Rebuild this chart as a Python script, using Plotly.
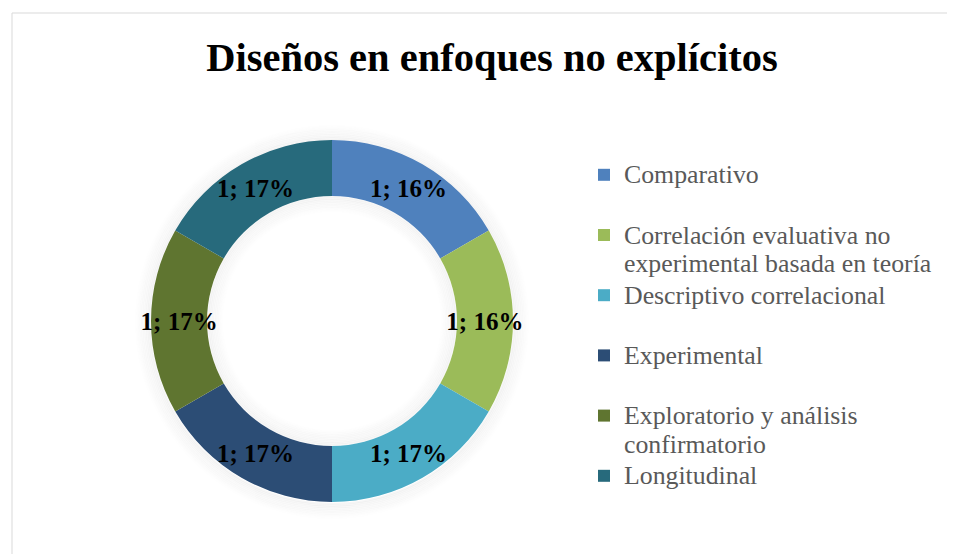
import plotly.graph_objects as go

categories = [
    "Comparativo",
    "Correlación evaluativa no|experimental basada en teoría",
    "Descriptivo correlacional",
    "Experimental",
    "Exploratorio y análisis|confirmatorio",
    "Longitudinal",
]
values = [1, 1, 1, 1, 1, 1]
pct_labels = ["16%", "16%", "17%", "17%", "17%", "17%"]
colors = ["#4F81BD", "#9BBB59", "#4BACC6", "#2C4D75", "#5F7530", "#276A7C"]
title_text = "Diseños en enfoques no explícitos"

OFF = 8  # page body margin
W, H = 955 - OFF, 554 - OFF
FONT = "Liberation Serif"


def px(x):
    return (x - OFF) / W


def py(y):
    return 1 - (y - OFF) / H


def legend_label(cat):
    lines = cat.split("|")
    if len(lines) == 1:
        lines.append(" ")
    return "<br>".join('<span style="font-size:25.8px">%s</span>' % ln for ln in lines)


labels = [legend_label(c) for c in categories]

# donut geometry (reference pixels)
cx, cy, R, r_in = 332, 321, 181, 125

fig = go.Figure(
    go.Pie(
        labels=labels,
        values=values,
        text=pct_labels,
        texttemplate="%{value}; %{text}",
        textposition="inside",
        insidetextorientation="horizontal",
        textfont=dict(family=FONT, size=25, color="black", weight="bold"),
        hole=r_in / R,
        sort=False,
        direction="clockwise",
        rotation=0,
        marker=dict(colors=colors, line=dict(color="white", width=0)),
        domain=dict(x=[px(cx - R), px(cx + R)], y=[py(cy + R), py(cy - R)]),
        hoverinfo="label+value+percent",
    )
)

# soft shadow around the ring (decoration)
shapes = []
steps = 10
for i in range(steps):
    a = 0.035 * (steps - i) / steps
    ro = R + 1 + i * 1.6
    shapes.append(dict(type="circle", xref="paper", yref="paper",
                       x0=px(cx - ro), x1=px(cx + ro), y0=py(cy + ro + 1), y1=py(cy - ro + 1),
                       line=dict(color="rgba(0,0,0,%.3f)" % a, width=2.2), layer="below"))
    ri = r_in - 1 - i * 1.6
    shapes.append(dict(type="circle", xref="paper", yref="paper",
                       x0=px(cx - ri), x1=px(cx + ri), y0=py(cy + ri), y1=py(cy - ri),
                       line=dict(color="rgba(0,0,0,%.3f)" % a, width=2.2), layer="below"))

shapes.append(
    dict(
        type="rect",
        xref="paper",
        yref="paper",
        x0=px(12),
        x1=px(952),
        y0=-0.05,
        y1=py(13),
        line=dict(color="#D9D9D9", width=1),
        fillcolor="rgba(0,0,0,0)",
        layer="below",
    )
)

fig.update_layout(
    width=W,
    height=H,
    margin=dict(l=0, r=0, t=0, b=0),
    paper_bgcolor="white",
    plot_bgcolor="white",
    uniformtext=dict(minsize=25, mode="show"),
    title=dict(
        text="<b>%s</b>" % title_text,
        font=dict(family=FONT, size=40.5, color="black"),
        x=px(492),
        xanchor="center",
        xref="paper",
        y=py(57),
        yanchor="middle",
        yref="container",
    ),
    legend=dict(
        x=px(584),
        xanchor="left",
        y=py(154),
        yanchor="top",
        valign="top",
        font=dict(family=FONT, size=22, color="#595959"),
        bgcolor="rgba(0,0,0,0)",
        itemwidth=30,
        traceorder="normal",
    ),
    shapes=shapes,
)

fig.write_html("out.html")
